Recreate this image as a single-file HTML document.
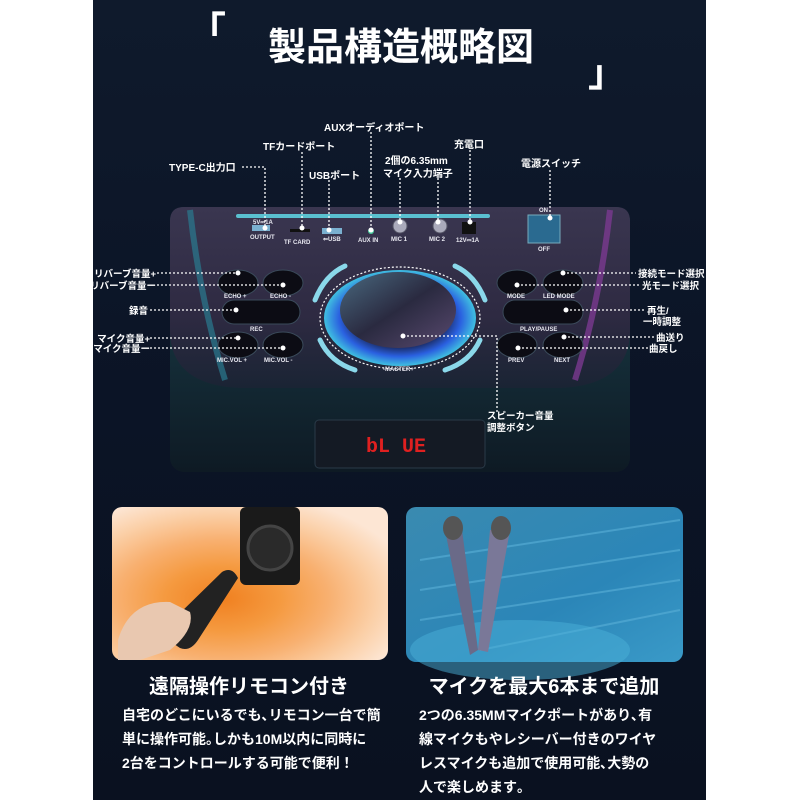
<!DOCTYPE html>
<html><head><meta charset="utf-8"><style>
html,body{margin:0;padding:0;background:#fff;}
body{width:800px;height:800px;overflow:hidden;position:relative;font-family:"Liberation Sans","Noto Sans CJK JP",sans-serif;}
svg{position:absolute;left:0;top:0}
.t{font-family:"Liberation Sans","Noto Sans CJK JP",sans-serif;fill:#fff;font-weight:bold}
.s{font-family:"Liberation Sans",sans-serif;fill:#e8e8f0;font-weight:bold;font-size:6px}
</style></head><body>
<svg width="800" height="800" viewBox="0 0 800 800">
<defs>
<linearGradient id="bg" x1="0" y1="0" x2="0" y2="1">
<stop offset="0" stop-color="#0f1a2c"/><stop offset="0.5" stop-color="#0b1426"/><stop offset="1" stop-color="#0a1120"/></linearGradient>
<linearGradient id="body" x1="0" y1="0" x2="0" y2="1">
<stop offset="0" stop-color="#3a3650"/><stop offset="0.6" stop-color="#2e2a42"/><stop offset="1" stop-color="#1a2434"/></linearGradient>
<linearGradient id="lower" x1="0" y1="0" x2="0" y2="1">
<stop offset="0" stop-color="#1c4450"/><stop offset="1" stop-color="#0e1a24"/></linearGradient>
<radialGradient id="ring" cx="0.5" cy="0.5" r="0.5">
<stop offset="0.6" stop-color="#1a2a60"/><stop offset="0.8" stop-color="#2a60e0"/><stop offset="1" stop-color="#40c0e0"/></radialGradient>
<linearGradient id="cone" x1="0" y1="0" x2="1" y2="1">
<stop offset="0" stop-color="#4a6a80"/><stop offset="0.5" stop-color="#2a2a40"/><stop offset="1" stop-color="#5a4a70"/></linearGradient>
<radialGradient id="orange" cx="0.4" cy="0.6" r="0.7">
<stop offset="0" stop-color="#f08020"/><stop offset="0.3" stop-color="#f59a40"/><stop offset="0.55" stop-color="#f8b070"/><stop offset="0.8" stop-color="#fbd0a8"/><stop offset="1" stop-color="#fde6d4"/></radialGradient>
<linearGradient id="blue" x1="0" y1="0" x2="1" y2="1">
<stop offset="0" stop-color="#3a8ab0"/><stop offset="0.6" stop-color="#2b86b8"/><stop offset="1" stop-color="#3a9ac8"/></linearGradient>
</defs>
<rect x="93" y="0" width="613" height="800" fill="url(#bg)"/>
<text x="188" y="44" class="t" font-size="38">「</text>
<text x="268" y="60" class="t" font-size="38">製品構造概略図</text>
<text x="588" y="86" class="t" font-size="38">」</text>

<rect x="170" y="207" width="460" height="265" rx="14" fill="url(#lower)"/>
<path d="M170 221 Q170 207 184 207 L616 207 Q630 207 630 221 L630 330 Q630 385 560 388 L240 388 Q170 385 170 330 Z" fill="url(#body)"/>
<path d="M190 210 Q200 300 225 380" stroke="#2a7a90" stroke-width="6" fill="none" opacity="0.7"/>
<path d="M610 210 Q600 300 575 380" stroke="#7a3a90" stroke-width="6" fill="none" opacity="0.8"/>
<rect x="236" y="214" width="254" height="4" rx="2" fill="#5ac0d0"/>
<rect x="252" y="225" width="18" height="6" fill="#7ab0d0"/>
<text x="250" y="239" class="s">OUTPUT</text>
<text x="253" y="224" class="s">5V⎓1A</text>
<rect x="290" y="229" width="20" height="3" fill="#111"/>
<text x="284" y="244" class="s">TF CARD</text>
<rect x="322" y="228" width="20" height="6" fill="#7ab0d0"/>
<text x="323" y="241" class="s">⇐USB</text>
<circle cx="371" cy="231" r="3" fill="#4ad0a0"/>
<text x="358" y="242" class="s">AUX IN</text>
<circle cx="400" cy="226" r="7" fill="#aab" stroke="#556"/>
<text x="391" y="241" class="s">MIC 1</text>
<circle cx="440" cy="226" r="7" fill="#aab" stroke="#556"/>
<text x="429" y="241" class="s">MIC 2</text>
<rect x="462" y="222" width="14" height="12" fill="#111"/>
<text x="456" y="242" class="s">12V⎓1A</text>
<rect x="528" y="215" width="32" height="28" fill="#2a6a90" stroke="#7ab" />
<text x="539" y="212" class="s">ON</text>
<text x="538" y="251" class="s">OFF</text>
<g fill="#0c0c14" stroke="#3a4a5a" stroke-width="1">
<ellipse cx="238" cy="283" rx="20" ry="13"/><ellipse cx="283" cy="283" rx="20" ry="13"/>
<rect x="222" y="300" width="78" height="24" rx="12"/>
<ellipse cx="238" cy="345" rx="20" ry="13"/><ellipse cx="283" cy="345" rx="20" ry="13"/>
<ellipse cx="517" cy="283" rx="20" ry="13"/><ellipse cx="563" cy="283" rx="20" ry="13"/>
<rect x="503" y="300" width="80" height="24" rx="12"/>
<ellipse cx="517" cy="345" rx="20" ry="13"/><ellipse cx="563" cy="345" rx="20" ry="13"/>
</g>
<text x="224" y="298" class="s">ECHO +</text><text x="270" y="298" class="s">ECHO -</text>
<text x="250" y="331" class="s">REC</text>
<text x="217" y="362" class="s">MIC.VOL +</text><text x="264" y="362" class="s">MIC.VOL -</text>
<text x="507" y="298" class="s">MODE</text><text x="543" y="298" class="s">LED MODE</text>
<text x="520" y="331" class="s">PLAY/PAUSE</text>
<text x="508" y="362" class="s">PREV</text><text x="554" y="362" class="s">NEXT</text>
<ellipse cx="400" cy="318" rx="76" ry="48" fill="url(#ring)"/>
<ellipse cx="398" cy="310" rx="58" ry="38" fill="url(#cone)"/>
<ellipse cx="400" cy="318" rx="80" ry="51" fill="none" stroke="#fff" stroke-width="1.2" stroke-dasharray="2,2"/>
<g stroke="#8ad8ea" stroke-width="5" fill="none" stroke-linecap="round">
<path d="M315 300 Q325 275 345 266"/><path d="M485 300 Q475 275 455 266"/>
<path d="M320 340 Q330 362 355 370"/><path d="M480 340 Q470 362 445 370"/>
</g>
<text x="383" y="371" class="s">-MASTER+</text>
<rect x="315" y="420" width="170" height="48" rx="4" fill="#141a24" stroke="#2a3a48"/>
<text x="366" y="452" font-family="Liberation Mono,monospace" font-weight="bold" font-size="20" fill="#e02020">bL UE</text>

<g stroke="#fff" stroke-width="1.3" stroke-dasharray="2,2" fill="none">
<path d="M242 167 H265 V228"/>
<path d="M302 152 V228"/>
<path d="M329 180 V230"/>
<path d="M371 132 V230"/>
<path d="M400 178 V222"/>
<path d="M438 178 V222"/>
<path d="M470 150 V222"/>
<path d="M550 170 V218"/>
<path d="M157 273 H238"/><path d="M157 285 H283"/>
<path d="M150 310 H236"/>
<path d="M150 338 H238"/><path d="M150 348 H283"/>
<path d="M563 273 H636"/><path d="M517 285 H640"/>
<path d="M566 310 H645"/>
<path d="M564 337 H655"/><path d="M518 348 H648"/>
<path d="M403 336 H497 V412"/>
</g>
<g fill="#fff">
<circle cx="265" cy="228" r="2.5"/><circle cx="302" cy="228" r="2.5"/><circle cx="329" cy="230" r="2.5"/>
<circle cx="371" cy="230" r="2.5"/><circle cx="400" cy="222" r="2.5"/><circle cx="438" cy="222" r="2.5"/>
<circle cx="470" cy="222" r="2.5"/><circle cx="550" cy="218" r="2.5"/>
<circle cx="238" cy="273" r="2.5"/><circle cx="283" cy="285" r="2.5"/><circle cx="236" cy="310" r="2.5"/>
<circle cx="238" cy="338" r="2.5"/><circle cx="283" cy="348" r="2.5"/>
<circle cx="563" cy="273" r="2.5"/><circle cx="517" cy="285" r="2.5"/><circle cx="566" cy="310" r="2.5"/>
<circle cx="564" cy="337" r="2.5"/><circle cx="518" cy="348" r="2.5"/><circle cx="403" cy="336" r="2.5"/>
</g>
<g class="t" font-size="10">
<text x="169" y="171">TYPE-C出力口</text>
<text x="263" y="150">TFカードポート</text>
<text x="309" y="179">USBポート</text>
<text x="324" y="131">AUXオーディオポート</text>
<text x="385" y="164">2個の6.35mm</text>
<text x="383" y="177">マイク入力端子</text>
<text x="454" y="148">充電口</text>
<text x="521" y="167">電源スイッチ</text>
</g>
<g class="t" font-size="9.5">
<text x="156" y="277" text-anchor="end">リバーブ音量+</text>
<text x="156" y="289" text-anchor="end">リバーブ音量ー</text>
<text x="148" y="314" text-anchor="end">録音</text>
<text x="150" y="342" text-anchor="end">マイク音量+</text>
<text x="150" y="352" text-anchor="end">マイク音量ー</text>
<text x="638" y="277">接続モード選択</text>
<text x="642" y="289">光モード選択</text>
<text x="647" y="314">再生/</text>
<text x="643" y="325">一時調整</text>
<text x="656" y="341">曲送り</text>
<text x="649" y="352">曲戻し</text>
<text x="487" y="419">スピーカー音量</text>
<text x="487" y="431">調整ボタン</text>
</g>

<rect x="112" y="507" width="276" height="153" rx="10" fill="url(#orange)"/>
<rect x="240" y="507" width="60" height="78" rx="6" fill="#1a1a1a"/>
<circle cx="270" cy="548" r="22" fill="#2a2a2a" stroke="#444" stroke-width="3"/>
<path d="M175 618 L222 572 Q232 566 238 578 L198 640 Q190 652 180 648 L168 640 Z" fill="#222"/>
<path d="M118 640 Q130 600 170 602 L190 612 Q195 630 170 650 L140 660 L118 660 Z" fill="#e9c8b0"/>
<rect x="406" y="507" width="277" height="155" rx="10" fill="url(#blue)"/>
<g stroke="#5ab0d8" stroke-width="2" opacity="0.6">
<path d="M420 560 L680 520"/><path d="M420 590 L680 550"/><path d="M420 620 L680 580"/><path d="M480 650 L680 610"/>
</g>
<ellipse cx="520" cy="650" rx="110" ry="30" fill="#4ab0d8" opacity="0.5"/>
<path d="M445 530 L462 530 L478 650 L470 655 Z" fill="#6a6a88"/>
<path d="M490 530 L510 530 L488 652 L478 650 Z" fill="#7a7898"/>
<ellipse cx="453" cy="528" rx="10" ry="12" fill="#555"/>
<ellipse cx="501" cy="528" rx="10" ry="12" fill="#555"/>

<text x="249" y="693" text-anchor="middle" class="t" font-size="20">遠隔操作リモコン付き</text>
<text x="544" y="693" text-anchor="middle" class="t" font-size="20">マイクを最大6本まで追加</text>
<g class="t" font-size="14">
<text x="122" y="720">自宅のどこにいるでも､リモコン一台で簡</text>
<text x="122" y="744">単に操作可能｡しかも10M以内に同時に</text>
<text x="122" y="768">2台をコントロールする可能で便利！</text>
<text x="419" y="720">2つの6.35MMマイクポートがあり､有</text>
<text x="419" y="744">線マイクもやレシーバー付きのワイヤ</text>
<text x="419" y="768">レスマイクも追加で使用可能､大勢の</text>
<text x="419" y="792">人で楽しめます｡</text>
</g>
</svg>
</body></html>
